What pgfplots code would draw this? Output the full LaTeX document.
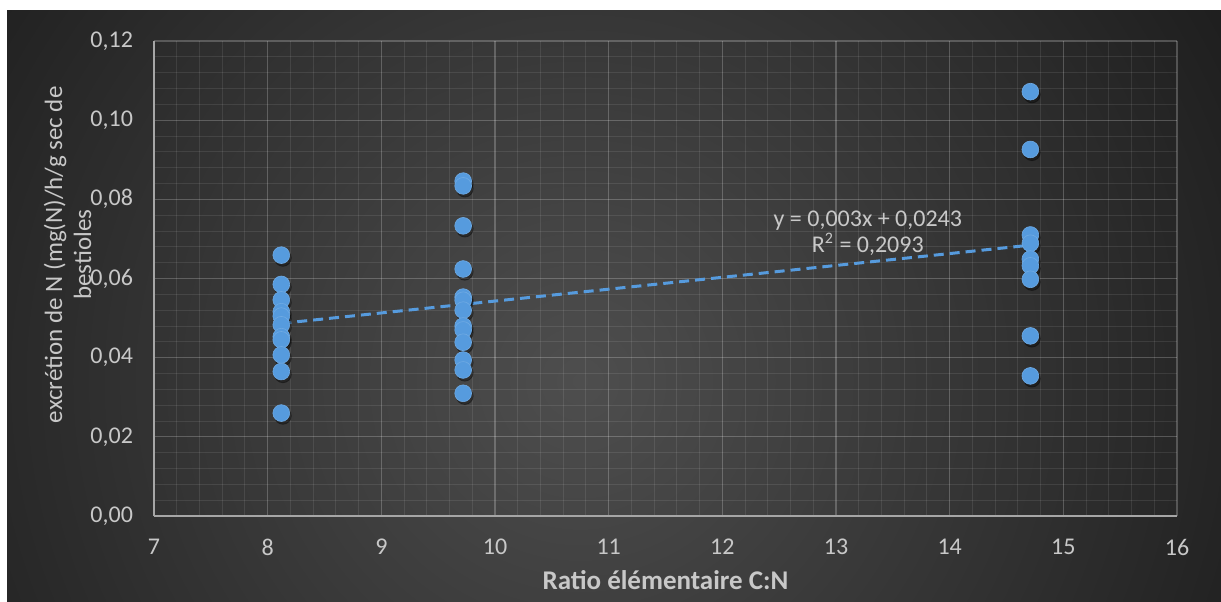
\documentclass[border=0pt]{standalone}
\usepackage{pgfplots}
\pgfplotsset{compat=1.18}
\usepackage{fontspec}
\setmainfont{Carlito}
\definecolor{dotblue}{RGB}{86,155,222}
\definecolor{txtgray}{RGB}{200,200,200}
\definecolor{bgin}{RGB}{78,78,78}
\definecolor{bgout}{RGB}{28,28,28}
\begin{document}
\begin{tikzpicture}
\fill[white] (0pt,0pt) rectangle (610.5pt,300.5pt);
\begin{scope}
\clip (3.5pt,0pt) rectangle (610.5pt,295pt);
\fill[bgout] (3.5pt,0pt) rectangle (610.5pt,295pt);
\shade[inner color=bgin, outer color=bgout] (290pt,110pt) circle (390pt);
\end{scope}
\path[use as bounding box] (0pt,0pt) rectangle (610.5pt,300.5pt);
\begin{axis}[
  at={(77pt,42.5pt)}, anchor=origin,
  scale only axis, width=511.5pt, height=237.5pt,
  xmin=7, xmax=16, ymin=0, ymax=0.12,
  xtick={7,8,...,16}, ytick={0,0.02,...,0.12},
  minor x tick num=4, minor y tick num=4,
  grid=both,
  major grid style={white, opacity=0.22, line width=0.6pt},
  minor grid style={white, opacity=0.09, line width=0.5pt},
  axis x line*=bottom, axis y line*=left,
  axis line style={-, draw=white!65!black, line width=0.8pt},
  major tick length=0pt, minor tick length=0pt,
  tick style={draw=none},
  ticklabel style={font=\fontsize{12}{14}\selectfont, text=txtgray},
  xticklabel style={yshift=-8pt},
  yticklabel style={xshift=-7pt, /pgf/number format/.cd, use comma, fixed, fixed zerofill, precision=2},
  /pgf/number format/assume math mode=true,
  scaled y ticks=false,
  xlabel={Ratio élémentaire C:N},
  xlabel style={font=\bfseries\fontsize{13.5}{15}\selectfont, text=txtgray, at={(axis description cs:0.5,0)}, anchor=center, yshift=-32pt},
  ylabel={excrétion de N (mg(N)/h/g sec de\\bestioles},
  ylabel style={font=\fontsize{12.5}{14.5}\selectfont, text=txtgray, align=center, at={(axis description cs:-0.0846,0.55)}, anchor=center},
  clip=false,
]
% shadow
\addplot[only marks, mark=*, mark size=4.2pt, mark options={draw=none, fill=black, opacity=0.35, xshift=0.8pt, yshift=-1.4pt}] coordinates {
(8.12,0.0659)(8.12,0.0585)(8.12,0.0546)(8.12,0.0516)(8.12,0.0505)(8.12,0.0483)(8.12,0.0453)(8.12,0.0445)(8.12,0.0407)(8.12,0.0365)(8.12,0.0260)
(9.72,0.0846)(9.72,0.0834)(9.72,0.0733)(9.72,0.0624)(9.72,0.0553)(9.72,0.0545)(9.72,0.0520)(9.72,0.0480)(9.72,0.0470)(9.72,0.0439)(9.72,0.0394)(9.72,0.0369)(9.72,0.0310)
(14.71,0.1072)(14.71,0.0926)(14.71,0.0710)(14.71,0.0689)(14.71,0.0649)(14.71,0.0632)(14.71,0.0598)(14.71,0.0455)(14.71,0.0354)
};
\addplot[only marks, mark=*, mark size=4.2pt, mark options={draw=dotblue!85!white, fill=dotblue, line width=0.3pt}] coordinates {
(8.12,0.0659)(8.12,0.0585)(8.12,0.0546)(8.12,0.0516)(8.12,0.0505)(8.12,0.0483)(8.12,0.0453)(8.12,0.0445)(8.12,0.0407)(8.12,0.0365)(8.12,0.0260)
(9.72,0.0846)(9.72,0.0834)(9.72,0.0733)(9.72,0.0624)(9.72,0.0553)(9.72,0.0545)(9.72,0.0520)(9.72,0.0480)(9.72,0.0470)(9.72,0.0439)(9.72,0.0394)(9.72,0.0369)(9.72,0.0310)
(14.71,0.1072)(14.71,0.0926)(14.71,0.0710)(14.71,0.0689)(14.71,0.0649)(14.71,0.0632)(14.71,0.0598)(14.71,0.0455)(14.71,0.0354)
};
\addplot[dotblue, line width=1.5pt, dash pattern=on 5pt off 3pt] coordinates {(8.12,0.04866)(14.71,0.06843)};
\node[font=\fontsize{12}{13}\selectfont, text=txtgray, align=center, inner sep=0pt] at (axis cs:13.28,0.0715) {y = 0,003x + 0,0243\\[0pt]R\textsuperscript{2} = 0,2093};
\end{axis}
\end{tikzpicture}
\end{document}
